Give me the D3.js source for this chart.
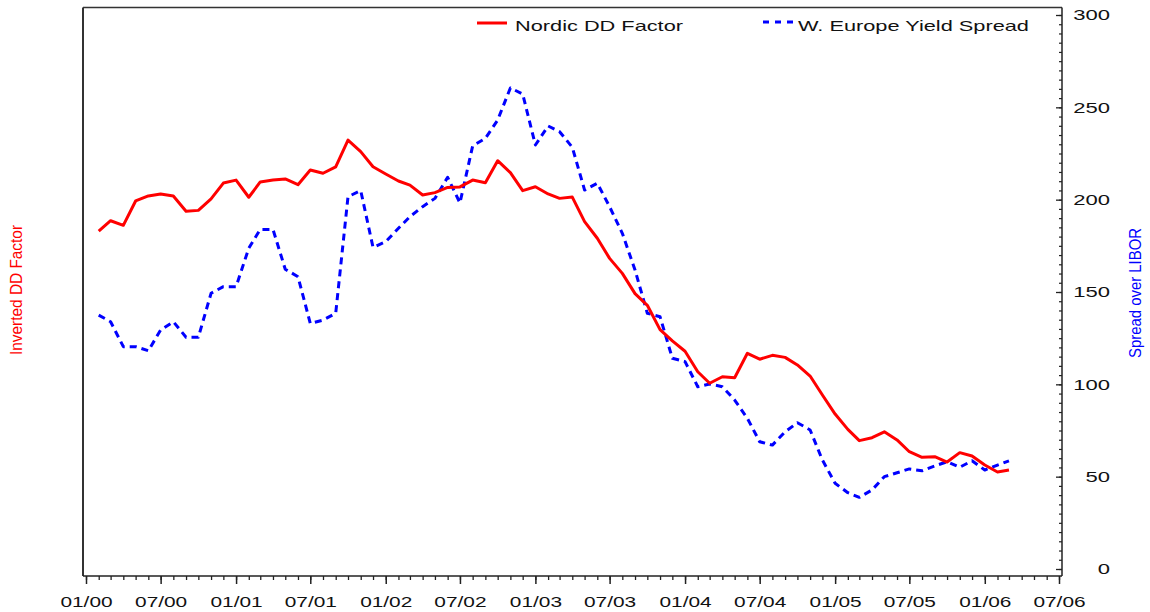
<!DOCTYPE html>
<html><head><meta charset="utf-8">
<script src="https://cdn.jsdelivr.net/npm/d3@7"></script>
<style>
body{margin:0;background:#fff}
svg{display:block}
text{font-family:"Liberation Sans",Arial,Helvetica,sans-serif}
</style>
</head><body>
<svg id="c" width="1150" height="612"></svg>
<script>
// ---- data (monthly) ----
const months = [
  "2000-02","2000-03","2000-04","2000-05","2000-06","2000-07","2000-08","2000-09","2000-10","2000-11","2000-12",
  "2001-01","2001-02","2001-03","2001-04","2001-05","2001-06","2001-07","2001-08","2001-09","2001-10","2001-11","2001-12",
  "2002-01","2002-02","2002-03","2002-04","2002-05","2002-06","2002-07","2002-08","2002-09","2002-10","2002-11","2002-12",
  "2003-01","2003-02","2003-03","2003-04","2003-05","2003-06","2003-07","2003-08","2003-09","2003-10","2003-11","2003-12",
  "2004-01","2004-02","2004-03","2004-04","2004-05","2004-06","2004-07","2004-08","2004-09","2004-10","2004-11","2004-12",
  "2005-01","2005-02","2005-03","2005-04","2005-05","2005-06","2005-07","2005-08","2005-09","2005-10","2005-11","2005-12",
  "2006-01","2006-02","2006-03"
];
const nordicDD = [
  183.0,188.6,186.1,199.3,202.0,203.1,202.0,193.7,194.2,200.4,209.0,
  210.6,201.3,209.6,210.6,211.2,208.1,216.1,214.3,217.8,232.3,226.0,217.8,
  213.9,210.1,207.9,202.5,203.8,206.6,206.9,210.6,209.2,221.1,214.6,204.9,
  207.0,203.1,200.7,201.4,188.1,179.1,168.2,160.1,149.1,142.8,129.6,123.5,
  117.9,106.8,100.6,104.1,103.6,116.8,113.6,115.7,114.6,110.5,104.5,94.2,
  83.9,75.6,69.5,71.1,74.3,69.9,63.5,60.5,60.8,57.9,63.0,61.2,
  56.3,52.5,53.6
];
const weYieldSpread = [
  137.5,133.9,120.4,120.4,118.2,129.4,133.9,125.5,125.5,149.3,152.9,
  152.9,173.7,183.9,183.9,162.3,158.3,133.0,134.8,138.5,201.6,204.9,174.2,
  177.2,184.5,190.8,196.2,200.7,212.1,198.2,229.1,233.2,243.1,260.5,257.2,
  229.6,239.9,236.8,228.4,205.2,208.9,196.2,181.8,161.9,138.5,136.6,114.1,
  112.3,98.7,100.2,98.7,91.5,81.6,68.9,67.1,74.3,79.2,75.3,59.0,
  46.4,41.3,38.8,42.8,50.0,52.1,54.2,53.2,55.8,58.1,55.1,58.6,
  53.6,56.3,58.6
];
const rightTicks = [0,50,100,150,200,250,300];
const xDomain = ["2000-01","2006-07"];
const seriesNames = ["Nordic DD Factor","W. Europe Yield Spread"];
const leftTitle = "Inverted DD Factor";
const rightTitle = "Spread over LIBOR";

// ---- layout ----
const L = 83, R = 1062, T = 7.5, B = 576;
const parse = d3.timeParse("%Y-%m");
const x = d3.scaleTime().domain(xDomain.map(parse)).range([86, 1059]);
const y = d3.scaleLinear().domain([0, 300]).range([569, 15]);
const svg = d3.select("#c");

function stretch(sel, f) {
  sel.each(function () {
    const w = this.getComputedTextLength();
    this.setAttribute("textLength", w * f);
    this.setAttribute("lengthAdjust", "spacingAndGlyphs");
  });
}

// frame
svg.append("line").attr("x1", L).attr("x2", R).attr("y1", T).attr("y2", T)
  .attr("stroke", "#333").attr("stroke-width", 1.5);
svg.append("line").attr("x1", L).attr("x2", L).attr("y1", T).attr("y2", B)
  .attr("stroke", "#333").attr("stroke-width", 2);
svg.append("line").attr("x1", R).attr("x2", R).attr("y1", T).attr("y2", B)
  .attr("stroke", "#222").attr("stroke-width", 1.5);
svg.append("line").attr("x1", L).attr("x2", R).attr("y1", B).attr("y2", B)
  .attr("stroke", "#222").attr("stroke-width", 1.5);

// bottom axis: minor monthly ticks
const gxMinor = svg.append("g").attr("transform", `translate(0,${B})`)
  .call(d3.axisBottom(x).ticks(d3.timeMonth.every(1)).tickSize(4).tickFormat(""));
gxMinor.select(".domain").remove();
gxMinor.selectAll("line").attr("stroke", "#222").attr("stroke-width", 1.3);

// bottom axis: major 6-month ticks with labels
const gx = svg.append("g").attr("transform", `translate(0,${B})`)
  .call(d3.axisBottom(x).ticks(d3.timeMonth.every(6)).tickSize(8)
    .tickFormat(d3.timeFormat("%m/%y")).tickPadding(12));
gx.select(".domain").remove();
gx.selectAll("line").attr("stroke", "#222").attr("stroke-width", 1.5);
gx.selectAll("text").attr("font-size", 15).attr("fill", "#111")
  .attr("font-family", '"Liberation Sans",Arial,sans-serif');
stretch(gx.selectAll("text"), 1.39);

// right axis: minor ticks every 5
const gyMinor = svg.append("g").attr("transform", `translate(${R},0)`)
  .call(d3.axisRight(y).tickValues(d3.range(0, 301, 5)).tickSize(-3).tickFormat(""));
gyMinor.select(".domain").remove();
gyMinor.selectAll("line").attr("stroke", "#222").attr("stroke-width", 1.2);

// right axis: major ticks with labels
const gy = svg.append("g").attr("transform", `translate(${R},0)`)
  .call(d3.axisRight(y).tickValues(rightTicks).tickSize(-6).tickPadding(48));
gy.select(".domain").remove();
gy.selectAll("line").attr("stroke", "#222").attr("stroke-width", 1.3);
gy.selectAll("text").attr("font-size", 15).attr("fill", "#111")
  .attr("text-anchor", "end")
  .attr("font-family", '"Liberation Sans",Arial,sans-serif');
stretch(gy.selectAll("text"), 1.47);

// axis titles
svg.append("text").text(leftTitle)
  .attr("transform", "translate(22,290) scale(1.45,1) rotate(-90)")
  .attr("text-anchor", "middle").attr("font-size", 11).attr("fill", "#ff0000")
  .attr("textLength", 130).attr("lengthAdjust", "spacingAndGlyphs");
svg.append("text").text(rightTitle)
  .attr("transform", "translate(1141,293) scale(1.45,1) rotate(-90)")
  .attr("text-anchor", "middle").attr("font-size", 11).attr("fill", "#0000ff")
  .attr("textLength", 130).attr("lengthAdjust", "spacingAndGlyphs");

// series lines
const dates = months.map(parse);
const line = d3.line().x((d, i) => x(dates[i])).y(d => y(d));

svg.append("path").datum(weYieldSpread)
  .attr("d", line).attr("fill", "none")
  .attr("stroke", "#0000ff").attr("stroke-width", 3)
  .attr("stroke-dasharray", "7,5").attr("stroke-linejoin", "round");

svg.append("path").datum(nordicDD)
  .attr("d", line).attr("fill", "none")
  .attr("stroke", "#ff0000").attr("stroke-width", 3)
  .attr("stroke-linejoin", "round");

// legend
const lg = svg.append("g");
lg.append("line").attr("x1", 477).attr("x2", 507).attr("y1", 23).attr("y2", 23)
  .attr("stroke", "#ff0000").attr("stroke-width", 3);
const t1 = lg.append("text").text(seriesNames[0]).attr("x", 515).attr("y", 30.5)
  .attr("font-size", 15).attr("fill", "#111");
lg.append("line").attr("x1", 763).attr("x2", 794).attr("y1", 22).attr("y2", 22)
  .attr("stroke", "#0000ff").attr("stroke-width", 3).attr("stroke-dasharray", "6,6");
const t2 = lg.append("text").text(seriesNames[1]).attr("x", 798).attr("y", 30.5)
  .attr("font-size", 15).attr("fill", "#111");
stretch(t1, 1.45);
stretch(t2, 1.45);
</script>
</body></html>
